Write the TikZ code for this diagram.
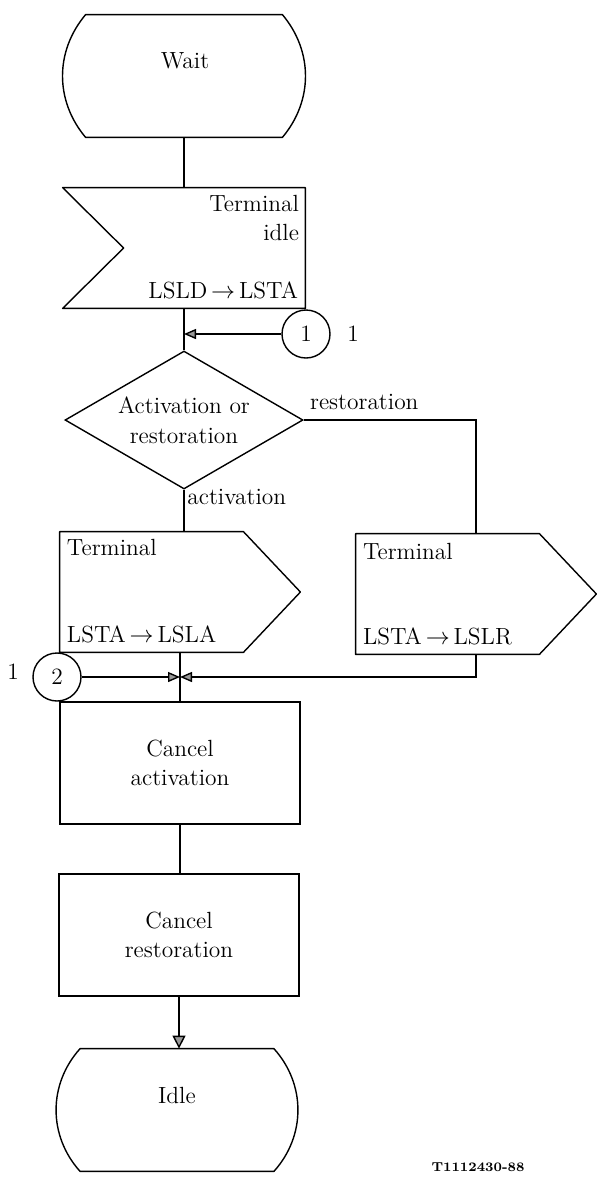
\documentclass[tikz,border=0pt]{standalone}
\usepackage{fontspec}
\usetikzlibrary{shapes.geometric,arrows.meta,calc}
\definecolor{tipfill}{gray}{0.6}
\tikzset{
  shp/.style={line width=0.7pt,line join=round},
  wire/.style={line width=0.7pt},
  flow/.style={line width=0.7pt,-{Triangle[length=6pt,width=5pt,fill=tipfill]}},
  bigflow/.style={line width=0.7pt,-{Triangle[length=6.5pt,width=6.5pt,fill=tipfill]}},
  body/.style={rectangle,inner sep=0pt},
  task/.style={draw,line width=0.7pt,rectangle,inner sep=0pt,minimum width=120pt,minimum height=61pt,align=center},
  decide/.style={draw,line width=0.7pt,diamond,aspect=1.72,inner sep=0pt,minimum width=119pt,minimum height=69pt,align=center},
  conn/.style={draw,line width=0.7pt,circle,inner sep=0pt,minimum size=24pt},
  txt/.style={inner sep=0pt},
}
\begin{document}
\begin{tikzpicture}[x=0.5pt,y=-0.5pt,font=\fontsize{11.7}{14.8}\selectfont]
  \useasboundingbox (0,0) rectangle (596,1180);
  % start state
  \node[body,minimum width=98pt,minimum height=61pt] (wait) at (184,76) {};
  \draw[shp] (wait.north west) -- (wait.north east) to[bend left=40] (wait.south east) -- (wait.south west) to[bend left=40] (wait.north west) -- cycle;
  \node[txt] (waitt) at (185,61) {Wait};
  % input signal
  \node[body,minimum width=121pt,minimum height=60pt] (insig) at (184,248) {};
  \draw[shp] (insig.north west) -- (insig.north east) -- (insig.south east) -- (insig.south west) -- ($(insig.west)+(61,0)$) -- cycle;
  \node[txt,anchor=north east,align=right] (insigt) at ($(insig.north east)+(-6,7)$) {Terminal\\idle};
  \node[txt,anchor=base east] (insigb) at ($(insig.south east)+(-7,-10)$) {LSLD\,$\rightarrow$\,LSTA};
  % connector 1
  \node[conn] (c1) at (306,334) {1};
  \node[txt] (c1lab) at (353,334) {1};
  % decision
  \node[decide] (act) at (184,420) {Activation or\\restoration};
  % output signals
  \node[body,minimum width=120pt,minimum height=60pt] (osigA) at (180,592) {};
  \draw[shp] (osigA.north west) -- ($(osigA.north east)+(-57,0)$) -- (osigA.east) -- ($(osigA.south east)+(-57,0)$) -- (osigA.south west) -- cycle;
  \node[txt,anchor=base west] (osigAt) at ($(osigA.north west)+(7,24)$) {Terminal};
  \node[txt,anchor=base west] (osigAb) at ($(osigA.south west)+(7,-10)$) {LSTA\,$\rightarrow$\,LSLA};
  \node[body,minimum width=120pt,minimum height=60pt] (osigB) at (476,594) {};
  \draw[shp] (osigB.north west) -- ($(osigB.north east)+(-57,0)$) -- (osigB.east) -- ($(osigB.south east)+(-57,0)$) -- (osigB.south west) -- cycle;
  \node[txt,anchor=base west] (osigBt) at ($(osigB.north west)+(7,26)$) {Terminal};
  \node[txt,anchor=base west] (osigBb) at ($(osigB.south west)+(7,-10)$) {LSTA\,$\rightarrow$\,LSLR};
  % connector 2
  \node[conn] (c2) at (57,677) {2};
  \node[txt] (c2lab) at (13,672) {1};
  % tasks
  \node[task] (cact) at (180,763) {Cancel\\activation};
  \node[task] (cres) at (179,935) {Cancel\\restoration};
  % end state
  \node[body,minimum width=96.5pt,minimum height=61pt] (idle) at (177,1110) {};
  \draw[shp] (idle.north west) -- (idle.north east) to[bend left=42] (idle.south east) -- (idle.south west) to[bend left=42] (idle.north west) -- cycle;
  \node[txt] (idlet) at (177,1095) {Idle};
  \node[txt,font=\fontsize{6.5}{8}\selectfont\bfseries] (ref) at (478,1167) {T1112430-88};
  % flow lines
  \draw[wire] (wait.south) -- (insig.north);
  \draw[wire] (insig.south) -- (act.north);
  \coordinate (j1) at (insig.south |- c1.west);
  \draw[flow] (c1.west) -- (j1);
  \draw[wire] (act.south) -- (act.south |- osigA.north);
  \node[txt,anchor=base west] (actlab) at ($(act.south)+(3,15)$) {activation};
  \draw[wire] (act.east) -- (act.east -| osigB.north) -- (osigB.north);
  \node[txt,anchor=base west] (reslab) at ($(act.east)+(6,-11)$) {restoration};
  \draw[wire] (osigA.south) -- (cact.north);
  \coordinate (j2) at (osigA.south |- c2.east);
  \draw[flow] (c2.east) -- (j2);
  \draw[flow] (osigB.south) |- (j2);
  \draw[wire] (cact.south) -- (cact.south |- cres.north);
  \draw[bigflow] (cres.south) -- (cres.south |- idle.north);
\end{tikzpicture}
\end{document}
